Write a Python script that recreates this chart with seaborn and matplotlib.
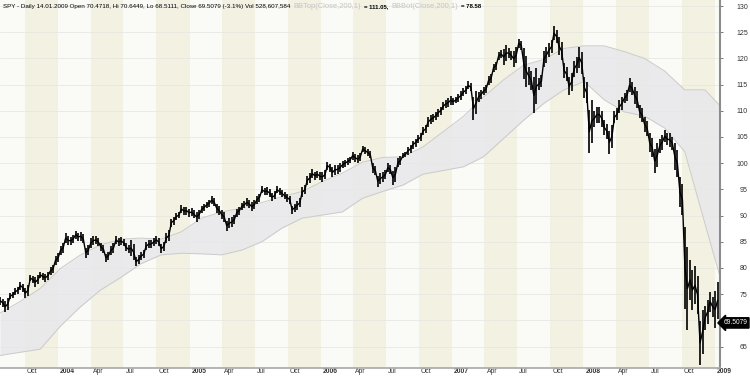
import numpy as np
import pandas as pd
import matplotlib
matplotlib.use('Agg')
import matplotlib.pyplot as plt
import matplotlib.transforms as mtransforms
import seaborn as sns

# two-week price ranges (start 2003-07-28, every 14 days)
bar_start = '2003-07-28'
bar_high = [74.5, 74.2, 75.5, 76.4, 77.4, 76.7, 78.7, 78.7, 79.3, 79.3,
            80.6, 82.8, 84.7, 86.6, 86.3, 87.1, 86.9, 84.4, 86.1, 86.1,
            84.8, 83.1, 84.7, 86.1, 85.9, 84.7, 85.3, 82.5, 83.4, 85.3,
            85.7, 86.1, 85.0, 87.2, 89.8, 90.7, 92.0, 91.7, 91.4, 91.1,
            92.3, 93.0, 93.7, 92.3, 91.1, 89.5, 90.1, 91.7, 92.7, 93.3,
            93.0, 94.2, 95.6, 95.4, 94.6, 95.6, 94.9, 94.2, 92.3, 93.3,
            95.8, 98.1, 98.8, 98.6, 98.7, 100.3, 99.7, 100.0, 100.7, 101.2,
            102.2, 101.9, 103.3, 102.8, 100.0, 98.1, 98.7, 100.0, 99.3, 101.3,
            102.2, 103.5, 104.7, 105.7, 107.3, 109.2, 109.8, 110.8, 112.1, 112.8,
            112.7, 113.7, 114.7, 115.6, 113.7, 114.0, 114.9, 117.1, 119.4, 121.6,
            122.6, 121.9, 122.2, 123.8, 121.9, 118.4, 118.1, 116.8, 122.2, 123.5,
            126.1, 124.1, 119.1, 117.2, 120.3, 122.2, 116.5, 112.1, 110.8, 110.8,
            108.2, 107.3, 110.5, 112.7, 114.0, 116.2, 114.6, 111.1, 108.9, 105.7,
            103.8, 105.4, 106.3, 105.7, 103.8, 97.4, 87.9, 81.5, 80.3, 72.0,
            73.9, 75.5, 77.4]
bar_low = [72.6, 71.5, 74.0, 74.8, 75.5, 74.2, 77.1, 76.4, 77.7, 77.4,
           78.7, 80.6, 82.5, 84.4, 84.4, 85.2, 84.7, 81.9, 83.9, 84.2,
           82.8, 81.2, 82.5, 84.2, 84.1, 82.8, 81.5, 80.3, 81.5, 83.4,
           83.8, 84.2, 82.8, 84.7, 87.9, 89.2, 90.1, 89.8, 89.5, 88.8,
           90.4, 91.4, 91.8, 90.1, 88.8, 87.1, 87.9, 89.8, 91.1, 91.4,
           90.8, 92.3, 93.9, 93.6, 92.7, 93.9, 93.1, 92.3, 90.3, 91.1,
           93.6, 95.8, 96.8, 96.8, 96.5, 98.4, 97.3, 98.0, 99.0, 99.7,
           100.3, 100.0, 101.8, 100.9, 97.7, 95.5, 96.5, 97.9, 95.8, 99.3,
           100.9, 101.6, 102.8, 103.8, 105.4, 107.0, 107.9, 108.9, 110.1, 110.8,
           111.1, 111.7, 112.8, 113.7, 108.2, 111.7, 113.0, 114.9, 117.5, 119.7,
           118.7, 119.7, 118.4, 121.6, 114.6, 114.0, 109.5, 114.0, 118.4, 120.3,
           122.9, 119.7, 115.6, 113.0, 116.5, 117.1, 111.4, 101.9, 107.0, 107.0,
           104.7, 101.8, 107.6, 109.5, 111.4, 113.0, 110.5, 107.9, 105.1, 101.2,
           98.1, 101.9, 103.5, 102.5, 97.4, 90.1, 68.2, 72.0, 71.3, 61.5,
           68.2, 70.7, 68.5]

# Bollinger bands (200, 1) read every 56 days, plus the last bar
band_start = '2003-07-24'
band_end = '2009-01-14'
bb_top = [71.4, 73.6, 76.1, 79.9, 82.5, 84.4, 85.5, 85.7, 85.5, 86.9,
          89.5, 90.7, 91.4, 92.5, 93.6, 94.6, 96.5, 98.1, 100.2, 101.1,
          101.2, 103.1, 106.0, 108.9, 112.6, 115.9, 118.7, 119.8, 121.9, 122.4,
          122.4, 121.3, 120.0, 117.6, 114.0, 114.0, 111.05]
bb_bot = [63.3, 63.9, 64.5, 68.9, 72.6, 75.8, 78.2, 80.8, 82.5, 82.8,
          82.7, 82.5, 83.4, 85.0, 87.6, 89.5, 90.1, 90.7, 93.3, 94.6,
          95.8, 97.9, 98.6, 99.3, 101.2, 104.7, 108.2, 111.4, 114.0, 115.6,
          112.1, 109.8, 109.0, 106.7, 102.2, 88.5, 78.58]

last_close = 69.5079
y_ticks = [65, 70, 75, 80, 85, 90, 95, 100, 105, 110, 115, 120, 125, 130]
month_names = {4: 'Apr', 7: 'Jul', 10: 'Oct'}

title_parts = [
    ('SPY - Daily 14.01.2009 Open 70.4718, Hi 70.6449, Lo 68.5111, Close 69.5079 (-3.1%) Vol 528,607,584', 'black', 'normal', 4.5),
    ('BBTop(Close,200,1)', '#c4c4c4', 'normal', 5.4),
    ('= 111.05,', 'black', 'bold', 4.3),
    ('BBBot(Close,200,1)', '#c4c4c4', 'normal', 5.4),
    ('= 78.58', 'black', 'bold', 4.3),
]

sns.set_style('white')
plt.rcParams['font.family'] = ['Liberation Sans', 'DejaVu Sans']

bar_dates = pd.date_range(bar_start, periods=len(bar_high), freq='14D')
band_dates = pd.date_range(band_start, periods=len(bb_top) - 1, freq='56D').append(pd.DatetimeIndex([band_end]))
hi = np.array(bar_high)
lo = np.array(bar_low)
mid = (hi + lo) / 2

# split each two-week range into two weekly bars (lower half first when rising)
half = pd.Timedelta(days=3.5)
wk_x, wk_lo, wk_hi = [], [], []
for i, d in enumerate(bar_dates):
    rising = mid[min(i + 1, len(mid) - 1)] >= mid[i]
    q = 0.3 * (hi[i] - lo[i])
    first = (lo[i], mid[i] + q)
    second = (mid[i] - q, hi[i])
    if not rising:
        first, second = (mid[i] - q, hi[i]), (lo[i], mid[i] + q)
    wk_x += [d - half, d + half]
    wk_lo += [first[0], second[0]]
    wk_hi += [first[1], second[1]]
wk_lo = np.array(wk_lo)
wk_hi = np.array(wk_hi)

fig = plt.figure(figsize=(7.5, 3.77), dpi=100)
ax = fig.add_axes([0, 9 / 377, 720 / 750, 368 / 377])
ax.set_xlim(pd.Timestamp('2003-07-24'), pd.Timestamp('2009-01-15'))
ax.set_ylim(60.9, 131.15)

# quarter stripes
quarters = pd.date_range('2003-07-01', '2009-04-01', freq='QS')
for s, e in zip(quarters[:-1], quarters[1:]):
    col = '#f3f1e2' if s.month in (4, 10) else '#fafaf7'
    ax.axvspan(s, e, color=col, lw=0, zorder=0)
for v in y_ticks:
    ax.axhline(v, color='#e8e8e3', lw=0.6, zorder=0.5)

# bollinger band
ax.fill_between(band_dates, bb_bot, bb_top, color='#e7e7eb', alpha=0.8, lw=0, zorder=1)
sns.lineplot(x=band_dates, y=bb_top, color='#cbcbcb', lw=0.7, ax=ax, zorder=2)
sns.lineplot(x=band_dates, y=bb_bot, color='#cbcbcb', lw=0.7, ax=ax, zorder=2)

# price bars
ax.vlines(wk_x, wk_lo, wk_hi, color='black', lw=1.2, zorder=3)
sns.lineplot(x=wk_x, y=(wk_lo + wk_hi) / 2, color='black', lw=1.0, ax=ax, zorder=3, sort=False)

ax.set_xlabel('')
ax.set_ylabel('')
for side in ['top', 'left']:
    ax.spines[side].set_visible(False)
ax.spines['right'].set_color('#8c8c8c')
ax.spines['right'].set_linewidth(1.5)
ax.spines['bottom'].set_color('#a8a8a8')
ax.spines['bottom'].set_linewidth(1.2)

# right axis (the 70 label sits under the last-value tag)
ax.yaxis.tick_right()
ax.set_yticks(y_ticks)
ax.set_yticklabels(['' if v == 70 else str(v) for v in y_ticks])
ax.tick_params(axis='y', length=2, width=0.7, color='#777777', labelcolor='#333333',
               labelsize=5, pad=18)
for lbl in ax.get_yticklabels():
    lbl.set_ha('right')

# bottom axis
xt = pd.date_range('2003-10-01', '2009-01-01', freq='QS')
ax.set_xticks(xt)
ax.set_xticklabels([str(d.year) if d.month == 1 else month_names[d.month] for d in xt])
ax.tick_params(axis='x', length=2.5, width=0.7, color='#555555', labelcolor='#333333',
               labelsize=4.9, pad=-2.8)
shift = mtransforms.ScaledTranslation(1.5 / 72, 0, fig.dpi_scale_trans)
for d, lbl in zip(xt, ax.get_xticklabels()):
    lbl.set_ha('left')
    lbl.set_transform(lbl.get_transform() + shift)
    if d.month == 1:
        lbl.set_fontweight('bold')

# last value tag
ax.annotate(f'{last_close:.4f}', xy=(1, last_close), xycoords=('axes fraction', 'data'),
            xytext=(2.5, 0), textcoords='offset points', ha='left', va='center',
            color='white', fontsize=4.8, annotation_clip=False, zorder=5,
            bbox=dict(boxstyle='larrow,pad=0.25', fc='black', ec='black'))

# title line
renderer = fig.canvas.get_renderer()
x = 3
for txt, col, w, fs in title_parts:
    t = fig.text(x / 750, 1 - 8 / 377, txt, color=col, fontweight=w, fontsize=fs,
                 ha='left', va='baseline')
    x = t.get_window_extent(renderer).x1 + 3

fig.savefig('out.png', dpi=100)
